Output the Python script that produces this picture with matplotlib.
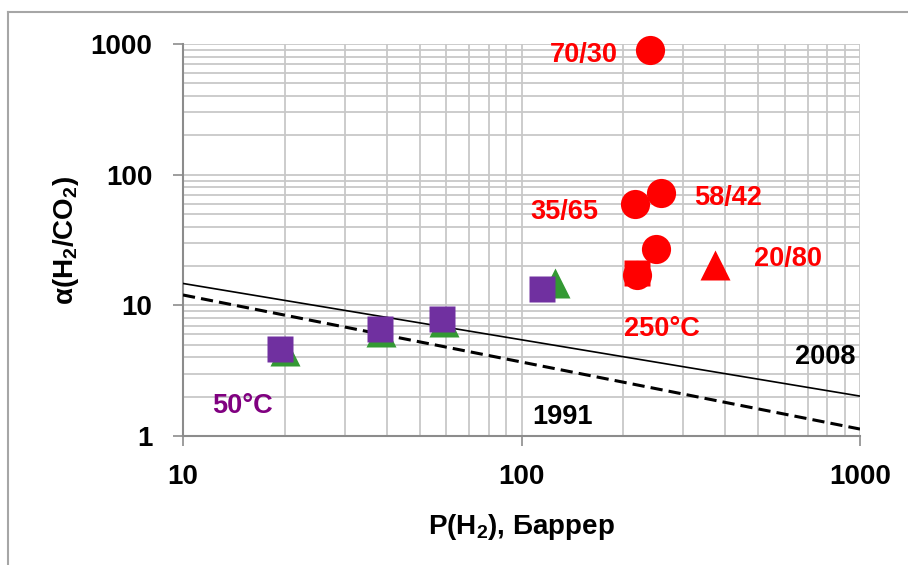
import matplotlib

matplotlib.use("Agg")
import matplotlib.pyplot as plt
from matplotlib.lines import Line2D
from matplotlib.ticker import LogLocator, NullFormatter, FixedFormatter, FixedLocator

plt.rcParams["font.family"] = ["Liberation Sans", "DejaVu Sans"]
plt.rcParams["font.weight"] = "bold"
plt.rcParams["mathtext.fontset"] = "custom"
plt.rcParams["mathtext.rm"] = "Liberation Sans:bold"
plt.rcParams["mathtext.bf"] = "Liberation Sans:bold"

RED = "#FF0000"
PURPLE = "#7030A0"
GREEN = "#339933"
GRID = "#C8C8C8"
AXIS = "#8C8C8C"

# permeability P(H2), Barrer, and selectivity alpha(H2/CO2)
p_green = [20.0, 38.5, 59.0, 126.0]
a_green = [4.5, 6.3, 7.4, 14.8]
p_purple = [19.4, 38.2, 58.2, 115.0]
a_purple = [4.63, 6.6, 7.86, 13.3]
p_red_circ = [240.0, 259.0, 217.0, 249.0, 220.0]
a_red_circ = [900.0, 72.0, 60.0, 27.0, 17.0]
p_red_sq = [220.0]
a_red_sq = [17.8]
p_red_tri = [374.0]
a_red_tri = [20.3]

# Robeson upper bounds, straight lines on log-log axes
p_bound = [10.0, 1000.0]
a_2008 = [14.7, 2.02]
a_1991 = [12.0, 1.13]

fig = plt.figure(figsize=(9.08, 5.65), dpi=100)
ax = fig.add_axes([183 / 908, 1 - 436 / 565, 677 / 908, 392 / 565])

ax.plot(p_bound, a_2008, "-", color="black", lw=1.2, zorder=3)
ax.plot(p_bound, a_1991, color="black", lw=2.2, ls=(0, (4, 2)), zorder=3)

mk = dict(mec="none", clip_on=False)
ax.plot(p_green, a_green, "^", ms=21, color=GREEN, zorder=4, **mk)
ax.plot(p_purple, a_purple, "s", ms=18.5, color=PURPLE, zorder=5, **mk)
ax.plot(p_red_sq, a_red_sq, "s", ms=18.5, color=RED, zorder=4, **mk)
ax.plot(p_red_circ, a_red_circ, "o", ms=21, color=RED, zorder=5, **mk)
ax.plot(p_red_tri, a_red_tri, "^", ms=21, color=RED, zorder=5, **mk)

ax.set_xscale("log")
ax.set_yscale("log")
ax.set_xlim(10, 1000)
ax.set_ylim(1, 1000)

ax.xaxis.set_major_locator(FixedLocator([10, 100, 1000]))
ax.xaxis.set_major_formatter(FixedFormatter(["10", "100", "1000"]))
ax.yaxis.set_major_locator(FixedLocator([1, 10, 100, 1000]))
ax.yaxis.set_major_formatter(FixedFormatter(["1", "10", "100", "1000"]))
for axis in (ax.xaxis, ax.yaxis):
    axis.set_minor_locator(LogLocator(base=10, subs=range(2, 10)))
    axis.set_minor_formatter(NullFormatter())

ax.grid(True, which="both", color=GRID, lw=1.3)
ax.set_axisbelow(True)
ax.tick_params(which="major", direction="out", length=7, width=1.2, color=AXIS,
               labelsize=20, pad=15)
ax.tick_params(axis="x", which="major", pad=13)
ax.tick_params(which="minor", length=0)
for side in ("top", "right"):
    ax.spines[side].set_visible(False)
for side in ("left", "bottom"):
    ax.spines[side].set_color(AXIS)
    ax.spines[side].set_linewidth(1.5)

ax.set_xlabel(r"P(H$_\mathbf{2}$), Баррер", fontsize=20, fontweight="bold", va="center")
ax.set_ylabel(r"α(H$_\mathbf{2}$/CO$_\mathbf{2}$)", fontsize=20, fontweight="bold", va="center")
ax.xaxis.set_label_coords(0.5, -0.232)
ax.yaxis.set_label_coords(-0.173, 0.5)

note = dict(fontsize=19.5, fontweight="bold", ha="center", va="center", zorder=6)
ax.text(153, 822, "70/30", color=RED, **note)
ax.text(134, 51.7, "35/65", color=RED, **note)
ax.text(407, 66.2, "58/42", color=RED, **note)
ax.text(612, 22.8, "20/80", color=RED, **note)
ax.text(259, 6.59, "250°C", color=RED, **note)
ax.text(790, 3.99, "2008", color="black", **note)
ax.text(132, 1.40, "1991", color="black", **note)
ax.text(15.0, 1.70, "50°C", color="#800080", **note)

# chart frame, only its left and top edges fall inside the canvas
fig.add_artist(Line2D([8 / 908, 8 / 908], [0, 1 - 12 / 565], color="#A6A6A6", lw=1.5))
fig.add_artist(Line2D([8 / 908, 1], [1 - 12 / 565, 1 - 12 / 565], color="#A6A6A6", lw=1.5))

fig.savefig("out.png", dpi=100)
